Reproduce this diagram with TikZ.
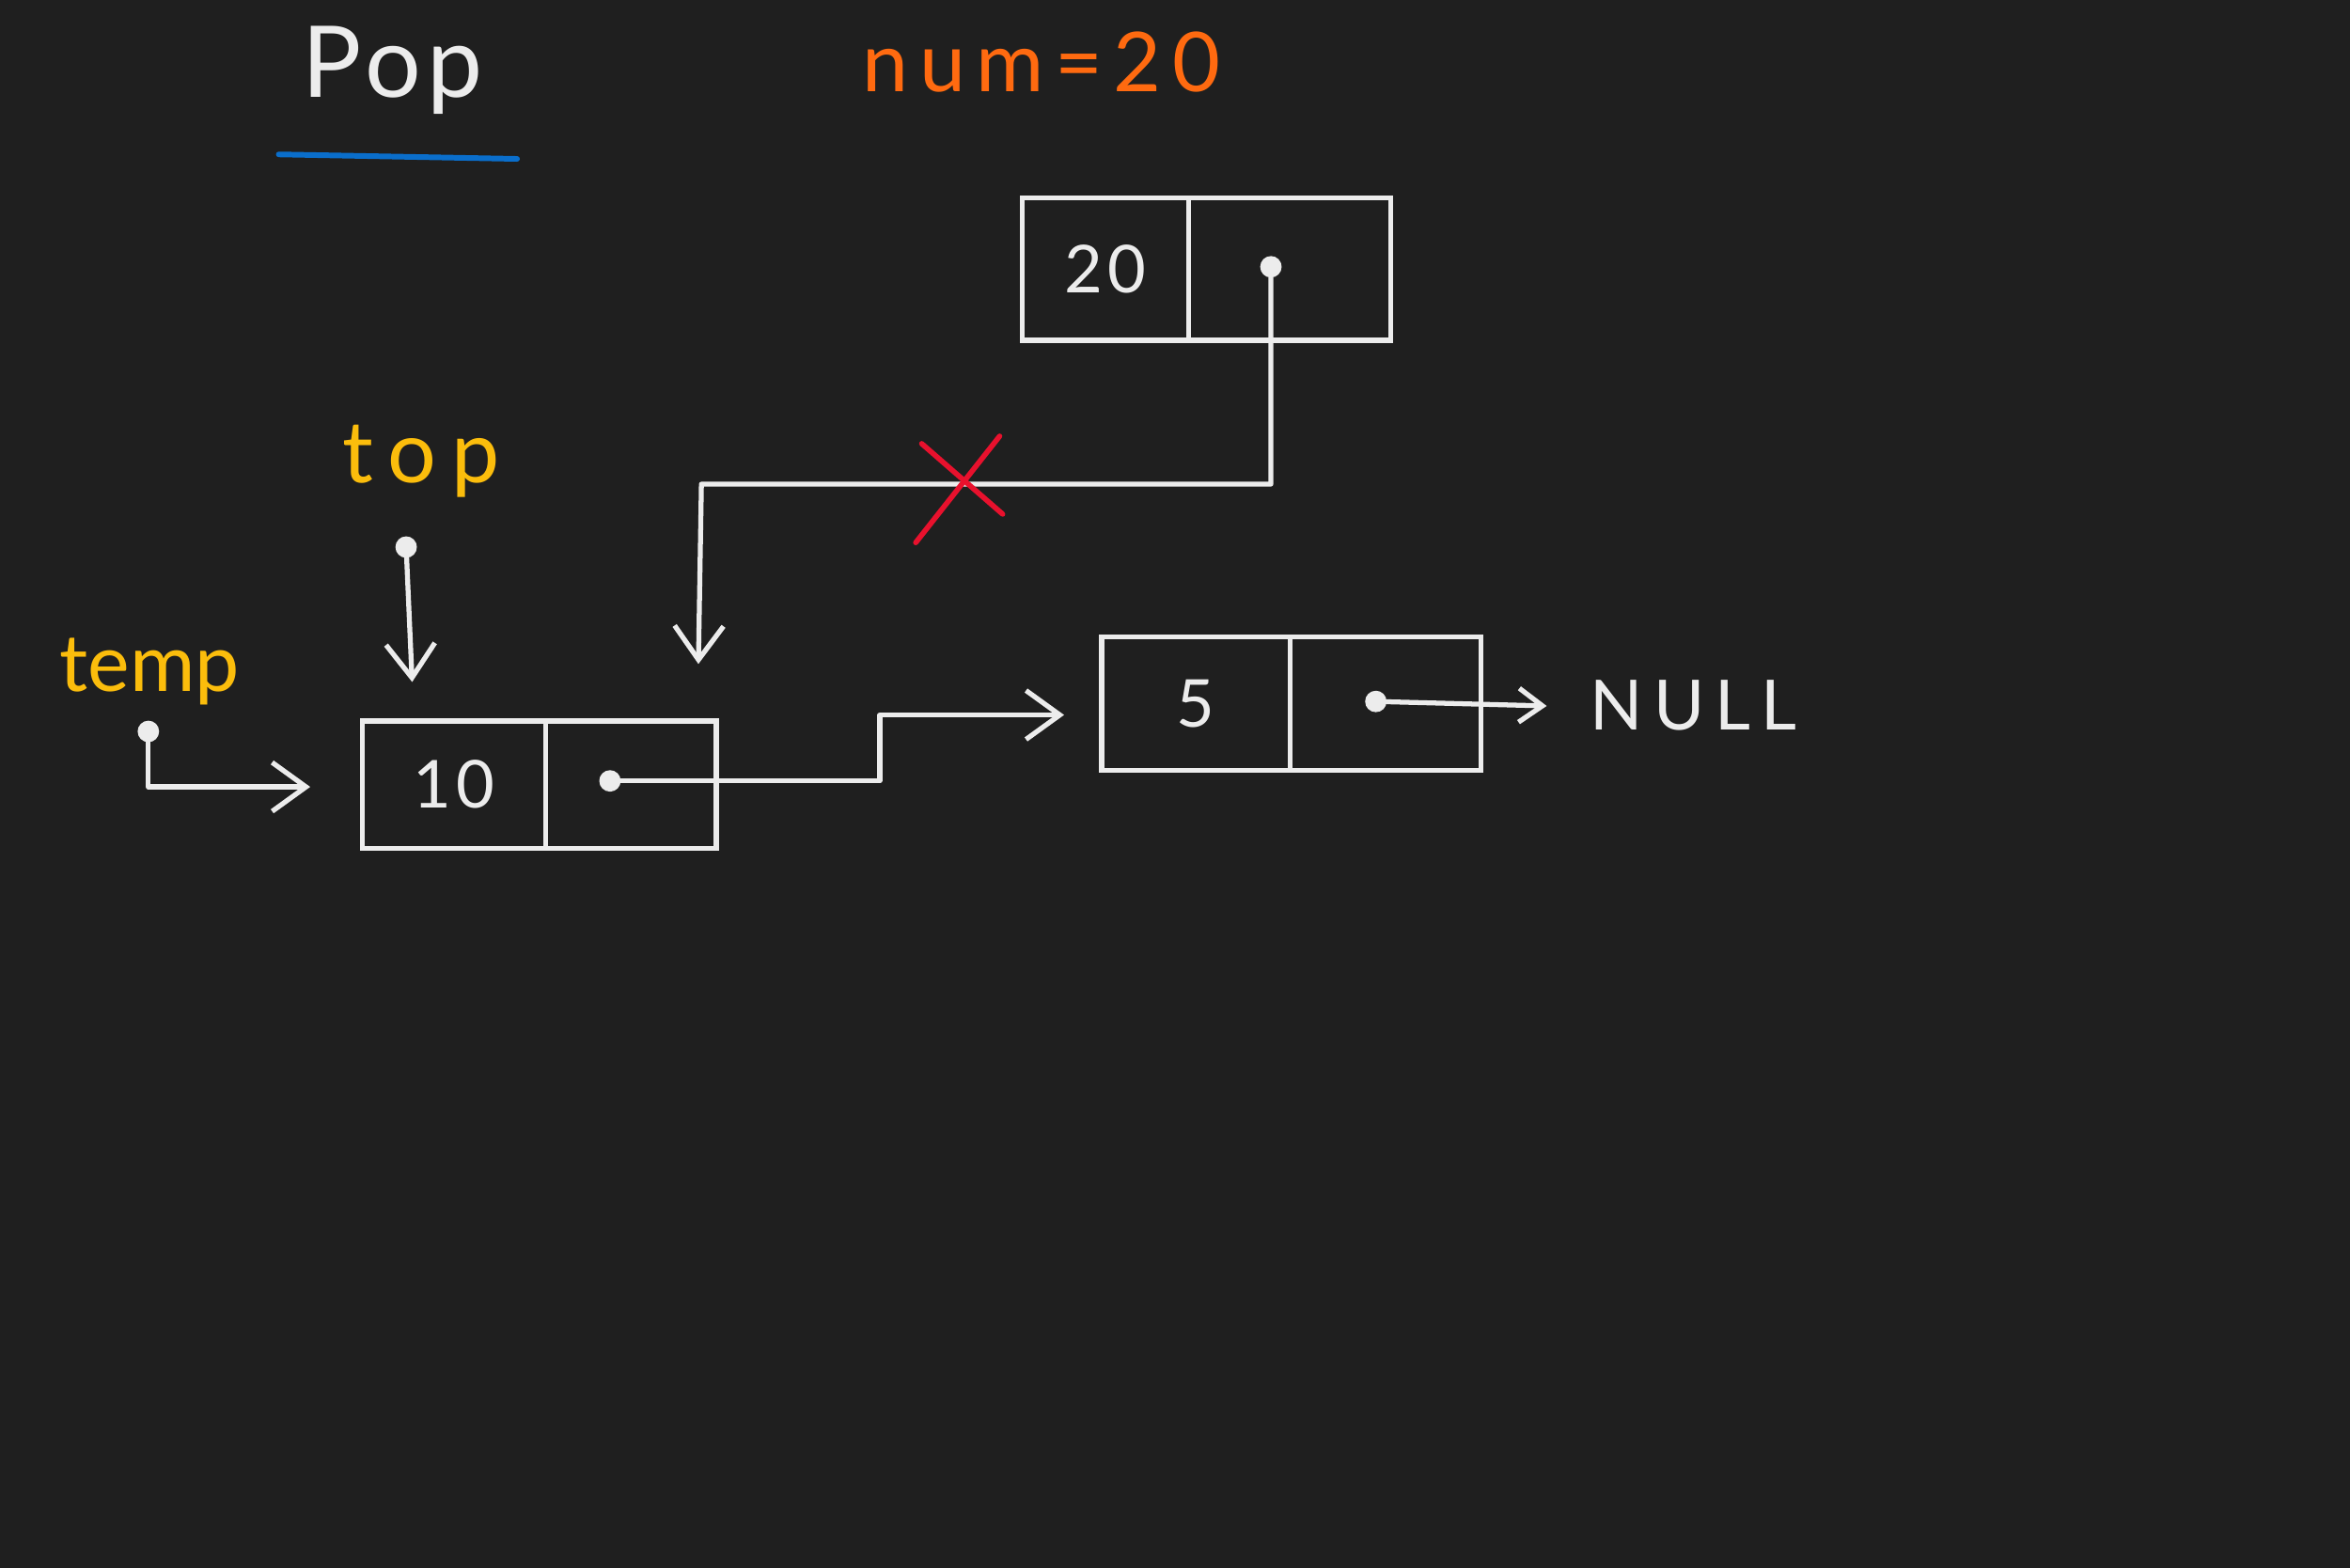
\documentclass[tikz,border=0pt]{standalone}
\usepackage{fontspec}
\setmainfont{Lato}
\usetikzlibrary{arrows.meta}
\definecolor{bg}{HTML}{1F1F1F}
\definecolor{ink}{HTML}{ECECEC}
\definecolor{orangeink}{HTML}{FF6A10}
\definecolor{yellowink}{HTML}{FBBD0C}
\definecolor{blueink}{HTML}{0A6ECB}
\definecolor{redink}{HTML}{E8112D}
\tikzset{
  cell/.style={draw=ink, line width=1.5pt, inner sep=0pt, outer sep=0pt, text=ink, font=\fontsize{20}{24}\selectfont\addfontfeature{LetterSpace=8}},
  ptdot/.style={circle, fill=ink, inner sep=0pt, outer sep=0pt, minimum size=6.5pt},
  conn/.style={draw=ink, line width=1.5pt, line join=round, line cap=round, -{Straight Barb[length=0.36cm, width=0.52cm]}},
  connsmall/.style={draw=ink, line width=1.5pt, line cap=round, -{Straight Barb[length=0.25cm, width=0.36cm]}},
  lbl/.style={inner sep=0pt, anchor=base}
}
\begin{document}
\begin{tikzpicture}[x=0.015944cm, y=-0.015944cm]
\fill[bg] (0,0) rectangle (1568,1046);
\useasboundingbox (0,0) rectangle (1568,1046);

% titles
\node[lbl, text=ink, font=\fontsize{30}{36}\selectfont\addfontfeature{LetterSpace=6}] (pop) at (262,65) {Pop};
\draw[blueink, line width=1.7pt, line cap=round] (186,103) -- (345,106);
\node[lbl, text=orangeink, font=\fontsize{25}{30}\selectfont\addfontfeature{LetterSpace=13}] (num) at (695,61) {num=20};

% node 20
\node[cell, minimum width=1.770cm, minimum height=1.515cm] (a20) at (737.5,179.5) {20};
\node[cell, minimum width=2.152cm, minimum height=1.515cm, anchor=west] (b20) at (a20.east) {};
\node[ptdot] (d20) at (848,178) {};

% node 10
\node[cell, minimum width=1.945cm, minimum height=1.355cm] (a10) at (303,523.5) {10};
\node[cell, minimum width=1.818cm, minimum height=1.355cm, anchor=west] (b10) at (a10.east) {};
\node[ptdot] (d10) at (407,521) {};

% node 5
\node[cell, minimum width=2.009cm, minimum height=1.419cm] (a5) at (798,469.5) {5};
\node[cell, minimum width=2.025cm, minimum height=1.419cm, anchor=west] (b5) at (a5.east) {};
\node[ptdot] (d5) at (918,468) {};

% labels
\node[lbl, text=yellowink, font=\fontsize{26}{30}\selectfont\addfontfeature{LetterSpace=17}] (top) at (281,322) {top};
\node[lbl, text=yellowink, font=\fontsize{24}{30}\selectfont] (temp) at (100,461) {temp};
\node[lbl, text=ink, font=\fontsize{21}{26}\selectfont\addfontfeature{LetterSpace=15}] (null) at (1130,487) {NULL};

% pointer dots
\node[ptdot] (dtop) at (271,365) {};
\node[ptdot] (dtemp) at (99,488) {};

% connector helper coordinates
\coordinate (c1) at (468,323);
\coordinate (t1) at (466,443);
\coordinate (ttop) at (275,455);
\coordinate (ttemp) at (207,525);
\coordinate (c2) at (587,477);
\coordinate (t10) at (710,477);
\coordinate (t5) at (1032,471);

% connectors
\draw[conn] (d20) |- (c1) -- (t1);
\draw[conn] (dtop) -- (ttop);
\draw[conn] (dtemp) |- (ttemp);
\draw[conn] (d10) -| (c2) -- (t10);
\draw[connsmall] (d5) -- (t5);

% red cross on the old link
\draw[redink, line width=1.6pt, line cap=round] (611,362) -- (667,291);
\draw[redink, line width=1.6pt, line cap=round] (615,296) -- (669,343);
\end{tikzpicture}
\end{document}
